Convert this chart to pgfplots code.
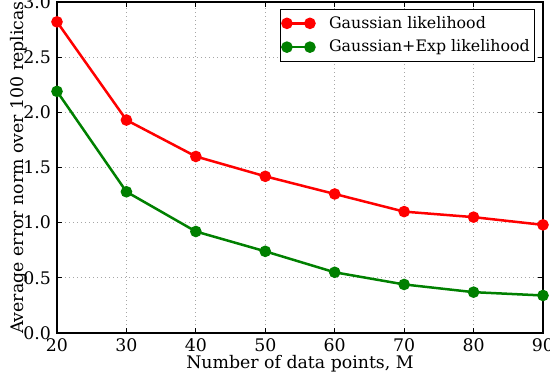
\documentclass[border=0pt]{standalone}
\usepackage{pgfplots}
\pgfplotsset{compat=1.18}
\usepackage{fontspec}
\setmainfont{DejaVu Serif}
\definecolor{mgreen}{RGB}{0,128,0}
\begin{document}
\fontsize{10.4}{12}\selectfont
\begin{tikzpicture}
\begin{axis}[
  scale only axis,
  width=291.6pt, height=198.6pt,
  at={(0,0)}, anchor=south west,
  xmin=20, xmax=90, ymin=0, ymax=3,
  xtick={20,30,...,90},
  ytick={0,0.5,...,3.0},
  yticklabel style={/pgf/number format/fixed,/pgf/number format/fixed zerofill,/pgf/number format/precision=1},
  /pgf/number format/assume math mode=true,
  tick label style={font=\fontsize{10.4}{12}\selectfont},
  label style={font=\fontsize{10.4}{12}\selectfont},
  xlabel={Number of data points, M},
  ylabel={Average error norm over 100 replicas},
  xlabel style={yshift=5pt},
  ylabel style={yshift=-9.5pt},
  grid=major,
  major grid style={gray!70, dotted, line width=0.5pt},
  axis line style={line width=1.1pt},
  tick align=inside,
  tick style={black, line width=0.5pt},
  major tick length=3pt,
  legend style={at={(0.984,0.979)}, anchor=north east, draw=black, line width=0.5pt,
    font=\fontsize{9.5}{11}\selectfont, row sep=1.5pt, inner xsep=1pt, inner ysep=2pt},
  legend cell align=left,
  legend image code/.code={\draw[#1] plot coordinates {(0pt,0pt) (13.8pt,0pt)}; \path (22.5pt,0pt);},
  every axis plot/.append style={line width=1.5pt, mark=*, mark size=2.7pt, mark options={draw=black, line width=0.5pt}},
]
\addplot[color=red, mark options={fill=red}] coordinates {
(20,2.82) (30,1.93) (40,1.60) (50,1.42) (60,1.26) (70,1.10) (80,1.05) (90,0.98)};
\addlegendentry{Gaussian likelihood}
\addplot[color=mgreen, mark options={fill=mgreen}] coordinates {
(20,2.19) (30,1.28) (40,0.92) (50,0.74) (60,0.55) (70,0.44) (80,0.37) (90,0.34)};
\addlegendentry{Gaussian+Exp likelihood}
\end{axis}
\pgfresetboundingbox
\useasboundingbox (-34.2pt,-26.4pt) rectangle (295.8pt,199.8pt);
\end{tikzpicture}
\end{document}
